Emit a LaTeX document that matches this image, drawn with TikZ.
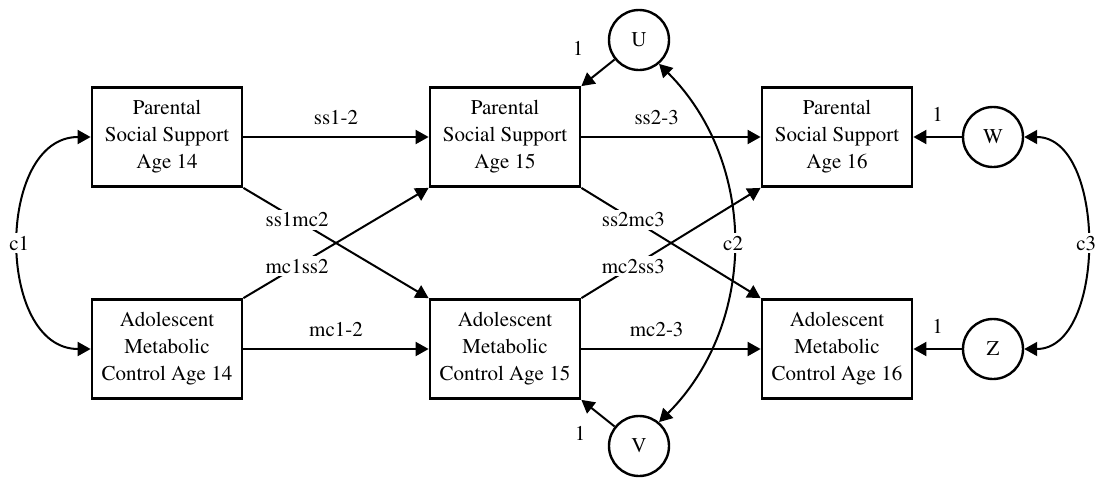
\documentclass[tikz,border=0pt]{standalone}
\usepackage[T1]{fontenc}
\renewcommand{\rmdefault}{ptm}
\usetikzlibrary{positioning, arrows.meta, calc}

\tikzset{
	var/.style={draw, line width=1.4pt, minimum width=75pt, minimum height=49.5pt, align=center, inner sep=1pt},
	err/.style={draw, circle, line width=1.2pt, minimum size=30pt, inner sep=0pt},
	cov/.style={fill=white, anchor=center, inner sep=1.5pt},
	path/.style={fill=white, anchor=center, inner sep=1.5pt},
	one/.style={anchor=center, inner sep=0pt}
}

\begin{document}
\begin{tikzpicture}[>={Triangle[length=6.5pt, width=7pt]}, line width=1pt, on grid, auto,
	font=\rmfamily\fontsize{10.5}{13.5}\selectfont]
			\useasboundingbox (0,0) rectangle (552pt,-238.5pt);
			\node[var] (ps14) at (83.5pt,-68.5pt) {Parental\\Social Support\\Age 14};
			\node[var, below=106pt of ps14] (am14) {Adolescent\\Metabolic\\Control Age 14};
			\node[var, right=169pt of ps14] (ps15) {Parental\\Social Support\\Age 15};
			\node[var, right=169pt of am14] (am15) {Adolescent\\Metabolic\\Control Age 15};
			\node[var, right=166pt of ps15] (ps16) {Parental\\Social Support\\Age 16};
			\node[var, right=166pt of am15] (am16) {Adolescent\\Metabolic\\Control Age 16};
			\node[err, above right=48.5pt and 67pt of ps15] (u) {U};
			\node[err, below right=48.5pt and 67pt of am15] (v) {V};
			\node[err, right=78pt of ps16] (w) {W};
			\node[err, right=78pt of am16] (z) {Z};
			
			\path[->]
			(ps14) edge node[above=2.5pt] {ss1-2} (ps15)
			(ps15) edge node[above=2.5pt, pos=.42] {ss2-3} (ps16)
			(am14) edge node[above=2.5pt] {mc1-2} (am15)
			(am15) edge node[above=2.5pt, pos=.42] {mc2-3} (am16)
			(ps14.south east) edge node[path, pos=.29] {ss1mc2} (am15.north west)
			(am14.north east) edge node[path, pos=.29] {mc1ss2} (ps15.south west)
			(ps15.south east) edge node[path, pos=.29] {ss2mc3} (am16.north west)
			(am15.north east) edge node[path, pos=.29] {mc2ss3} (ps16.south west)
			(u) edge node[one, xshift=-10pt, yshift=12pt] {1} (ps15.north east)
			(v) edge node[one, xshift=-9pt, yshift=-10pt] {1} (am15.south east)
			(w) edge node[above=4pt] {1} (ps16)
			(z) edge node[above=4pt] {1} (am16);
			
			\path[<->]
			(ps14.west) edge[out=180, in=180, looseness=1.15] node[cov] {c1} (am14.west)
			(u.-50) edge[out=-45, in=45] node[cov] {c2} (v.50)
			(w.east) edge[out=0, in=0] node[cov] {c3} (z.east);
		\end{tikzpicture}
\end{document}
